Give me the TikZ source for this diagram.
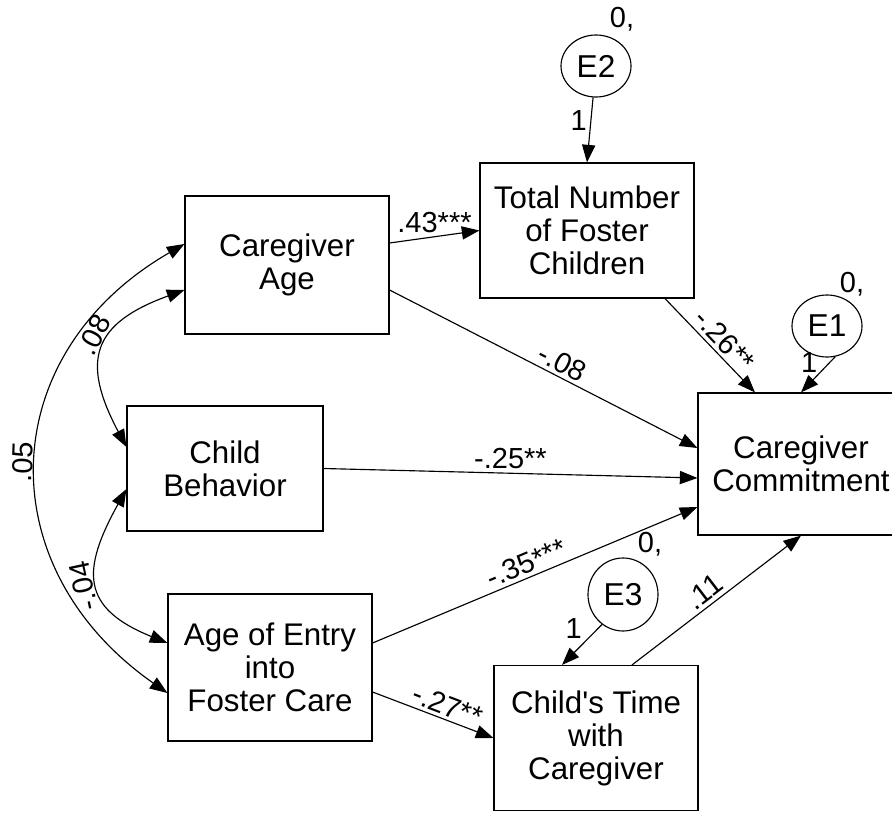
\documentclass[tikz,border=0pt]{standalone}
\usepackage{fontspec}
\setmainfont{Liberation Sans}[Ligatures=TeXOff]
\usetikzlibrary{arrows.meta,positioning,shapes.geometric}
\tikzset{
	box/.style={draw,rectangle,align=center,inner sep=0pt,font=\fontsize{17.8}{18.8}\selectfont},
	err/.style={draw,ellipse,inner sep=0pt,minimum width=1.4cm,minimum height=1.24cm,font=\fontsize{18}{19}\selectfont},
	coef/.style={font=\fontsize{16.5}{18}\selectfont,inner sep=2pt},
	>={Triangle[length=10pt,width=7.5pt]}
}
\begin{document}
\begin{tikzpicture}[line width=0.65pt]
	\useasboundingbox (0,0) rectangle (17.84,16.24);
	% observed variables
	\node[box,minimum width=4.08cm,minimum height=2.76cm] (age) at (5.74,10.94) {Caregiver\\Age};
	\node[box,minimum width=4.28cm,minimum height=2.70cm] (num) at (11.74,11.63) {Total Number\\of Foster\\Children};
	\node[box,minimum width=3.92cm,minimum height=2.50cm] (beh) at (4.50,6.87) {Child\\Behavior};
	\node[box,minimum width=4.08cm,minimum height=2.94cm] (entry) at (5.40,2.89) {Age of Entry\\into\\Foster Care};
	\node[box,minimum width=4.08cm,minimum height=2.90cm] (time) at (11.92,1.48) {Child's Time\\with\\Caregiver};
	\node[box,minimum width=4.12cm,minimum height=2.84cm] (com) at (16.02,6.96) {Caregiver\\Commitment};
	% error terms
	\node[err] (e2) at (11.92,14.92) {E2};
	\node[err] (e1) at (16.54,9.72) {E1};
	\node[err,minimum height=1.46cm] (e3) at (12.46,4.35) {E3};
	\node[coef] (v2) at (12.44,15.85) {0,};
	\node[coef] (v1) at (17.04,10.56) {0,};
	\node[coef] (v3) at (13.00,5.36) {0,};

	\draw[->] (e2) -- node[coef,left,pos=.35] {1} (num.north);
	\draw[->] (e1.-75) -- node[coef,left=5pt,pos=.15] {1} (com.north);
	\draw[->] (e3.-125) -- node[coef,left=7pt,pos=.1] {1} ([xshift=-0.68cm]time.north);

	\draw[->] ([yshift=0.44cm]age.east) -- node[coef,above] {.43***} (num.west);
	\draw[->] ([yshift=-0.5cm]age.east) -- node[coef,above,sloped,pos=.54] {-.08} ([yshift=0.32cm]com.west);
	\draw[->] ([xshift=1.56cm]num.south) -- node[coef,above,sloped,pos=.55] {-.26**} ([xshift=-0.92cm]com.north);
	\draw[->] (beh.east) -- node[coef,above] {-.25**} ([yshift=-0.28cm]com.west);
	\draw[->] ([yshift=0.49cm]entry.east) -- node[coef,above,sloped,pos=.49] {-.35***} ([yshift=-0.86cm]com.west);
	\draw[->] ([xshift=0.72cm]time.north) -- node[coef,above,sloped,pos=.48] {.11} (com.south);
	\draw[->] ([yshift=-0.49cm]entry.east) -- node[coef,above,sloped,pos=.58] {-.27**} (time.west);

	% covariances
	\draw[<->] ([yshift=0.42cm]age.west) to[out=210,in=145,looseness=1.25] node[coef,above,sloped] {.05} ([yshift=-0.51cm]entry.west);
	\draw[<->] ([yshift=-0.5cm]age.west) to[out=200,in=118,looseness=1.5] node[coef,above,sloped,pos=.45] {.08} ([yshift=0.43cm]beh.west);
	\draw[<->] ([yshift=0.49cm]entry.west) to[out=158,in=241,looseness=1.5] node[coef,above,sloped,allow upside down] {-.04} ([yshift=-0.41cm]beh.west);
\end{tikzpicture}
\end{document}
